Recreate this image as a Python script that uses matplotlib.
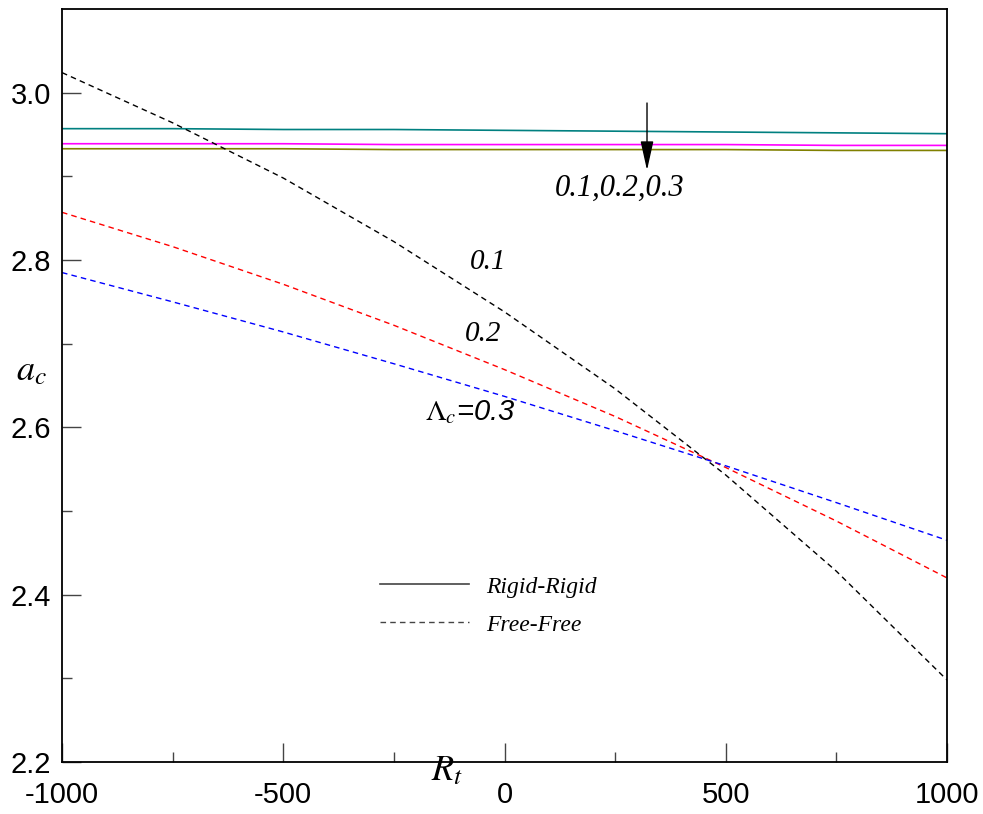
import numpy as np
import matplotlib.pyplot as plt
from matplotlib.lines import Line2D

plt.rcParams['font.family'] = ['Liberation Sans', 'DejaVu Sans']
plt.rcParams['mathtext.fontset'] = 'stix'

# Rt 값 (x축)
rt = [-1000, -750, -500, -250, 0, 250, 500, 750, 1000]

# Free-Free 경계 (점선), Lambda_c = 0.1, 0.2, 0.3
ff_01 = [3.024, 2.964, 2.898, 2.822, 2.738, 2.646, 2.543, 2.428, 2.298]
ff_02 = [2.857, 2.816, 2.771, 2.722, 2.669, 2.613, 2.552, 2.488, 2.420]
ff_03 = [2.785, 2.750, 2.714, 2.676, 2.637, 2.596, 2.554, 2.510, 2.465]

# Rigid-Rigid 경계 (실선)
rr_01 = [2.957, 2.957, 2.956, 2.956, 2.955, 2.954, 2.953, 2.952, 2.951]
rr_02 = [2.939, 2.939, 2.939, 2.938, 2.938, 2.938, 2.938, 2.937, 2.937]
rr_03 = [2.933, 2.933, 2.933, 2.932, 2.932, 2.932, 2.932, 2.931, 2.931]

serif = ['Liberation Serif', 'DejaVu Serif']

fig = plt.figure(figsize=(9.83, 8.14), dpi=100)
ax = fig.add_axes([0.0631, 0.0639, 0.9003, 0.925])

ax.plot(rt, rr_01, color='#008080', lw=1.2)
ax.plot(rt, rr_02, color='#ff00ff', lw=1.2)
ax.plot(rt, rr_03, color='#808000', lw=1.2)

ax.plot(rt, ff_01, color='black', ls=(0, (4, 3)), lw=1.0)
ax.plot(rt, ff_02, color='red', ls=(0, (4, 3)), lw=1.0)
ax.plot(rt, ff_03, color='blue', ls=(0, (4, 3)), lw=1.0)

ax.set_xlim(-1000, 1000)
ax.set_ylim(2.2, 3.1)
ax.set_xticks([-1000, -500, 0, 500, 1000])
ax.set_xticks([-750, -250, 250, 750], minor=True)
ax.set_yticks([2.2, 2.4, 2.6, 2.8, 3.0])
ax.set_yticks([2.3, 2.5, 2.7, 2.9], minor=True)
ax.set_xticklabels(['-1000', '-500', '0', '500', '1000'])
ax.set_yticklabels(['2.2', '2.4', '2.6', '2.8', '3.0'])
ax.tick_params(which='both', direction='in', labelsize=21, width=1.0, color='#444444')
ax.tick_params(which='major', length=14)
ax.tick_params(which='minor', length=7)
ax.tick_params(axis='x', pad=14)
ax.tick_params(axis='y', pad=8)
for s in ax.spines.values():
    s.set_linewidth(1.3)

# 축 이름
ax.text(0.435, -0.012, '$\\mathit{R}_{\\mathit{t}}$', fontsize=26, transform=ax.transAxes,
        ha='center', va='center')
ax.text(-0.035, 0.52, '$\\mathit{a}_{\\mathit{c}}$', fontsize=26, transform=ax.transAxes,
        ha='center', va='center')

ax.text(-37, 2.798, '0.1', fontsize=21, style='italic', family=serif, ha='center', va='center')
ax.text(-49, 2.712, '0.2', fontsize=21, style='italic', family=serif, ha='center', va='center')
ax.text(-78, 2.618, '$\\mathit{\\Lambda}_{\\mathit{c}}$=0.3', fontsize=21, style='italic',
        ha='center', va='center')
ax.text(261, 2.886, '0.1,0.2,0.3', fontsize=22, style='italic', family=serif,
        ha='center', va='center')
ax.annotate('', xy=(322, 2.904), xytext=(322, 2.991),
            arrowprops=dict(arrowstyle='-|>,head_width=0.2,head_length=0.9',
                            color='black', lw=1.0, mutation_scale=20))

handles = [Line2D([], [], color='#444444', lw=1.2),
           Line2D([], [], color='#444444', lw=1.0, ls=(0, (4, 3)))]
ax.legend(handles, ['Rigid-Rigid', 'Free-Free'], loc='upper left',
          bbox_to_anchor=(0.335, 0.275), frameon=False, handlelength=3.8,
          handletextpad=0.7, labelspacing=0.7,
          prop={'family': serif, 'style': 'italic', 'size': 17})

plt.savefig('out.png', dpi=100)
